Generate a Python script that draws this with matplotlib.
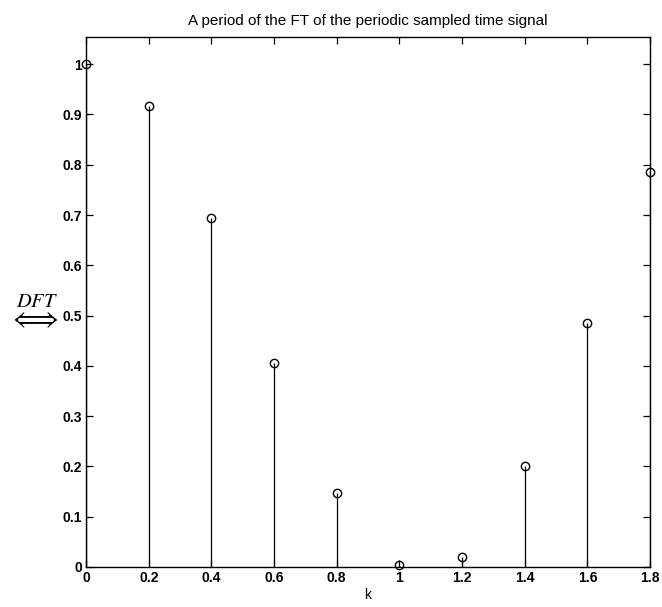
import numpy as np
from matplotlib import pyplot as plt

plt.rcParams['font.family'] = ['Liberation Sans', 'DejaVu Sans']
plt.rcParams['mathtext.fontset'] = 'stix'

k = [0, 0.2, 0.4, 0.6, 0.8, 1.0, 1.2, 1.4, 1.6, 1.8]
dft = [1.0, 0.917, 0.695, 0.405, 0.147, 0.003, 0.02, 0.2, 0.485, 0.785]
xtick_vals = [0, 0.2, 0.4, 0.6, 0.8, 1.0, 1.2, 1.4, 1.6, 1.8]
xtick_labels = ['0', '0.2', '0.4', '0.6', '0.8', '1', '1.2', '1.4', '1.6', '1.8']
ytick_vals = [0, 0.1, 0.2, 0.3, 0.4, 0.5, 0.6, 0.7, 0.8, 0.9, 1.0]
ytick_labels = ['0', '0.1', '0.2', '0.3', '0.4', '0.5', '0.6', '0.7', '0.8', '0.9', '1']

fig = plt.figure(figsize=(6.62, 6.07), dpi=100)
ax = fig.add_axes([0.130, 0.066, 0.852, 0.873])

ax.vlines(k, 0, dft, color='black', linewidth=0.9)
ax.plot(k, dft, 'o', markerfacecolor='none', markeredgecolor='black',
        markersize=6, markeredgewidth=1.0, clip_on=False)

ax.set_xlim(0, 1.8)
ax.set_ylim(0, 1.054)
ax.set_xticks(xtick_vals)
ax.set_xticklabels(xtick_labels, fontweight='bold', fontsize=10)
ax.set_yticks(ytick_vals)
ax.set_yticklabels(ytick_labels, fontweight='bold', fontsize=10)
ax.tick_params(direction='in', top=True, right=True, length=5, width=0.9, pad=3)
for s in ax.spines.values():
    s.set_linewidth(1.0)

ax.set_xlabel('k', fontsize=10, labelpad=2)
ax.set_title('A period of the FT of the periodic sampled time signal', fontsize=11, pad=9)

# DFT symbol in the left margin
fig.text(0.050, 0.481, r'$\overset{DFT}{\Longleftrightarrow}$', fontsize=21,
         ha='center', va='center')

fig.savefig('out.png', dpi=100)
